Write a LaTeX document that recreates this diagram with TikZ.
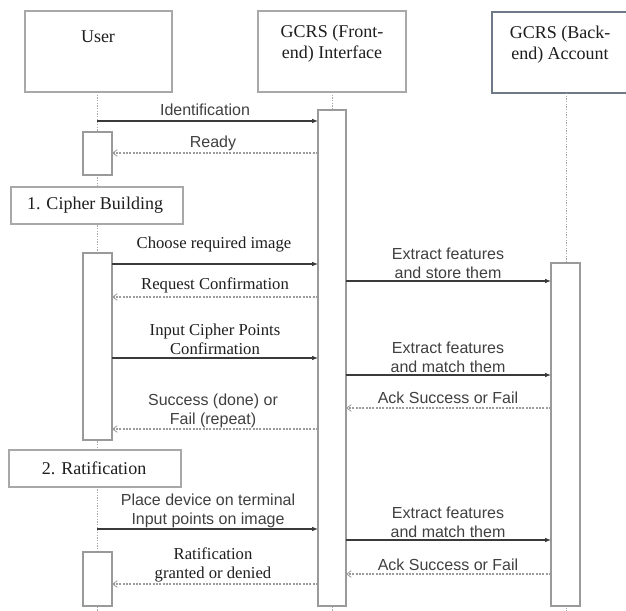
\documentclass[tikz,border=0pt]{standalone}
\usepackage{fontspec}
\setmainfont{Liberation Serif}
\newfontfamily\labsans{Liberation Sans}
\usetikzlibrary{arrows.meta}
\definecolor{boxgray}{HTML}{A8A8A8}
\definecolor{backedge}{HTML}{6E7A88}
\definecolor{linegray}{HTML}{9A9A9A}
\definecolor{msgdark}{HTML}{3A3A3A}
\definecolor{retgray}{HTML}{9C9C9C}
\definecolor{sanstext}{HTML}{404040}
\definecolor{seriftext}{HTML}{1E1E1E}
\tikzset{
  headbox/.style={draw=boxgray,line width=1.1pt,fill=white},
  actbar/.style={draw=linegray,line width=0.8pt,fill=white},
  lifeline/.style={draw=boxgray,line width=0.7pt,dash pattern=on 1pt off 1pt},
  callmsg/.style={draw=msgdark,line width=0.8pt,-{Latex[length=4.5pt,width=3.5pt]}},
  retmsg/.style={draw=retgray,line width=0.9pt,dash pattern=on 1.5pt off 1pt,-{Straight Barb[length=3.5pt,width=5pt,line width=0.6pt]}},
  headtxt/.style={font=\fontsize{13.5}{15.75}\selectfont,text=seriftext,align=center,inner sep=0pt},
  sanslab/.style={font=\labsans\fontsize{12}{14.25}\selectfont,text=sanstext,align=center,inner sep=0pt},
  seriflab/.style={font=\fontsize{12.5}{14.25}\selectfont,text=seriftext,align=center,inner sep=0pt},
}
\begin{document}
\begin{tikzpicture}[x=0.75pt,y=-0.75pt]
\useasboundingbox (0,0) rectangle (626,611);
\clip (0,0) rectangle (626,611);
\fill[white] (0,0) rectangle (626,611);

% header boxes
\draw[headbox] (25,11) rectangle (172,92);
\node[headtxt] (huser) at (98,37) {User};
\draw[headbox] (258,11) rectangle (406,92);
\node[headtxt] (hfront) at (332,44) {GCRS (Front-\\end) Interface};
\draw[draw=backedge,line width=1.6pt,fill=white] (492,12) rectangle (640,93);
\node[headtxt] (hback) at (560,45) {GCRS (Back-\\end) Account};

% lifelines
\coordinate (uTop) at (97,92);  \coordinate (uBot) at (97,611);
\coordinate (fTop) at (332,92); \coordinate (fBot) at (332,611);
\coordinate (bTop) at (566,93); \coordinate (bBot) at (566,611);
\draw[lifeline] (uTop) -- (uBot);
\draw[lifeline] (fTop) -- (fBot);
\draw[lifeline] (bTop) -- (bBot);

% activation bars
\draw[actbar] (83,132) rectangle (112,175);
\draw[actbar] (83,253) rectangle (112,440);
\draw[actbar] (83,552) rectangle (112,606);
\draw[actbar] (318,110) rectangle (346,606);
\draw[actbar] (551,263) rectangle (580,606);

% phase boxes
\draw[headbox,line width=1pt] (11,187) rectangle (183,224);
\node[headtxt] (phase1) at (95,205) {1. Cipher Building};
\draw[headbox,line width=1pt] (9,450) rectangle (181,487);
\node[headtxt] (phase2) at (94,468) {2. Ratification};

% message end points
\coordinate (m1a) at (97,121);  \coordinate (m1b) at (318,121);
\coordinate (m2a) at (318,153); \coordinate (m2b) at (112,153);
\coordinate (m3a) at (112,264); \coordinate (m3b) at (318,264);
\coordinate (m4a) at (346,281); \coordinate (m4b) at (551,281);
\coordinate (m5a) at (318,297); \coordinate (m5b) at (112,297);
\coordinate (m6a) at (112,358); \coordinate (m6b) at (318,358);
\coordinate (m7a) at (346,375); \coordinate (m7b) at (551,375);
\coordinate (m8a) at (551,408); \coordinate (m8b) at (346,408);
\coordinate (m9a) at (318,429); \coordinate (m9b) at (112,429);
\coordinate (m10a) at (97,529); \coordinate (m10b) at (318,529);
\coordinate (m11a) at (346,540); \coordinate (m11b) at (551,540);
\coordinate (m12a) at (551,574); \coordinate (m12b) at (346,574);
\coordinate (m13a) at (318,584); \coordinate (m13b) at (112,584);

% messages
\draw[callmsg] (m1a) -- (m1b);
\node[sanslab] (l1) at (205,110) {Identification};
\draw[retmsg] (m2a) -- (m2b);
\node[sanslab] (l2) at (213,143) {Ready};
\draw[callmsg] (m3a) -- (m3b);
\node[seriflab] (l3) at (214,245) {Choose required image};
\draw[callmsg] (m4a) -- (m4b);
\node[sanslab] (l4) at (448,263) {Extract features\\and store them};
\draw[retmsg] (m5a) -- (m5b);
\node[seriflab] (l5) at (215,285) {Request Confirmation};
\draw[callmsg] (m6a) -- (m6b);
\node[seriflab] (l6) at (215,339) {Input Cipher Points\\Confirmation};
\draw[callmsg] (m7a) -- (m7b);
\node[sanslab] (l7) at (448,357) {Extract features\\and match them};
\draw[retmsg] (m8a) -- (m8b);
\node[sanslab] (l8) at (448,398) {Ack Success or Fail};
\draw[retmsg] (m9a) -- (m9b);
\node[sanslab] (l9) at (213,411) {Success (done) or\\Fail (repeat)};
\draw[callmsg] (m10a) -- (m10b);
\node[sanslab] (l10) at (208,511) {Place device on terminal\\Input points on image};
\draw[callmsg] (m11a) -- (m11b);
\node[sanslab] (l11) at (448,522) {Extract features\\and match them};
\draw[retmsg] (m12a) -- (m12b);
\node[sanslab] (l12) at (448,565) {Ack Success or Fail};
\draw[retmsg] (m13a) -- (m13b);
\node[seriflab] (l13) at (213,565) {Ratification\\granted or denied};
\end{tikzpicture}
\end{document}
